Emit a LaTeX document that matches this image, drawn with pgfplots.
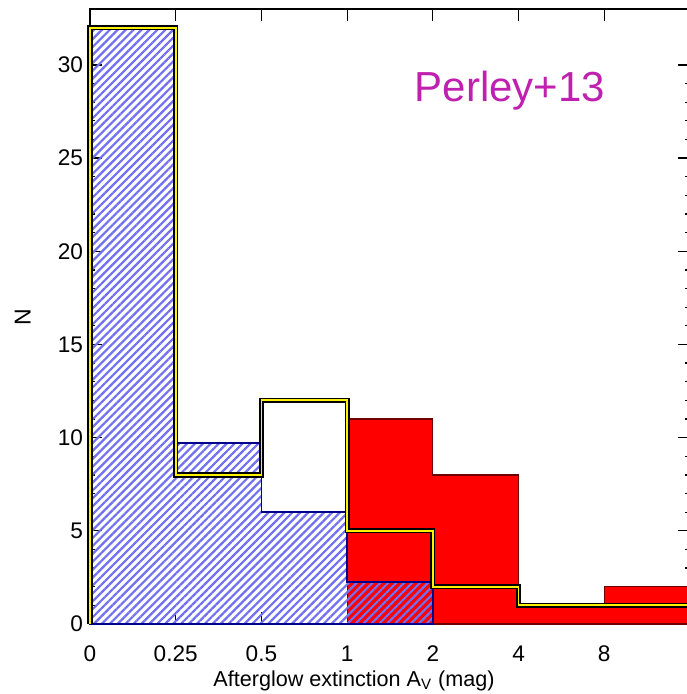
\documentclass[border=0pt]{standalone}
\usepackage{fontspec}
\setmainfont{Liberation Sans}
\usepackage{pgfplots}
\pgfplotsset{compat=1.18}
\usetikzlibrary{patterns.meta}
\definecolor{hatchblue}{RGB}{112,112,240}
\definecolor{navyline}{RGB}{0,0,140}
\definecolor{darkred}{RGB}{110,0,0}
\definecolor{perley}{RGB}{192,32,176}
\begin{document}
\begin{tikzpicture}
\begin{axis}[
  at={(0,0)}, anchor=south west,
  scale only axis, width=300pt, height=307.5pt,
  xmin=0, xmax=7, ymin=0, ymax=33,
  clip=false,
  xtick={0,1,2,3,4,5,6}, xticklabels={0,0.25,0.5,1,2,4,8},
  ytick={0,5,10,15,20,25,30}, minor y tick num=4,
  tick align=inside, major tick length=6pt, minor tick length=2.5pt,
  axis line style={line width=1pt},
  every tick/.style={black, line width=0.6pt},
  tick label style={font=\fontsize{11.3}{13}\selectfont},
  /pgf/number format/assume math mode=true,
  xticklabel style={yshift=-7.5pt},
  label style={font=\fontsize{10.8}{13}\selectfont},
  xlabel={Afterglow extinction A\textsubscript{V} (mag)},
  xlabel style={at={(axis description cs:0.44,0)}, anchor=base, yshift=-31pt},
  ylabel={N},
  ylabel style={at={(axis description cs:-0.112,0.499)}, anchor=center, font=\fontsize{11.5}{13}\selectfont},
]
% red histogram
\addplot[fill=red, draw=darkred, line width=0.6pt] coordinates {
  (3,0) (3,11) (4,11) (4,8) (5,8) (5,1) (6,1) (6,2) (7,2) (7,0)
} -- cycle;
% blue hatched histogram
\addplot[pattern={Lines[angle=45, distance=2.8pt, line width=1.1pt]}, pattern color=hatchblue, draw=navyline, line width=0.8pt] coordinates {
  (0,0) (0,32) (1,32) (1,9.7) (2,9.7) (2,6) (3,6) (3,2.25) (4,2.25) (4,0)
} -- cycle;
% outline histogram
\addplot[black, line width=2.6pt, line join=miter] coordinates {
  (0,0) (0,32) (1,32) (1,8) (2,8) (2,12) (3,12) (3,5) (4,5) (4,2) (5,2) (5,1) (7.2,1)
};
\addplot[yellow, line width=0.9pt, line join=miter] coordinates {
  (0,0) (0,32) (1,32) (1,8) (2,8) (2,12) (3,12) (3,5) (4,5) (4,2) (5,2) (5,1) (7.2,1)
};
\node[anchor=base, text=perley, font=\fontsize{21}{24}\selectfont] at (axis cs:4.9,28.06) {Perley+13};
\end{axis}
\pgfresetboundingbox
\path (-45pt,-35pt) rectangle (298pt,312pt);
\end{tikzpicture}
\end{document}
